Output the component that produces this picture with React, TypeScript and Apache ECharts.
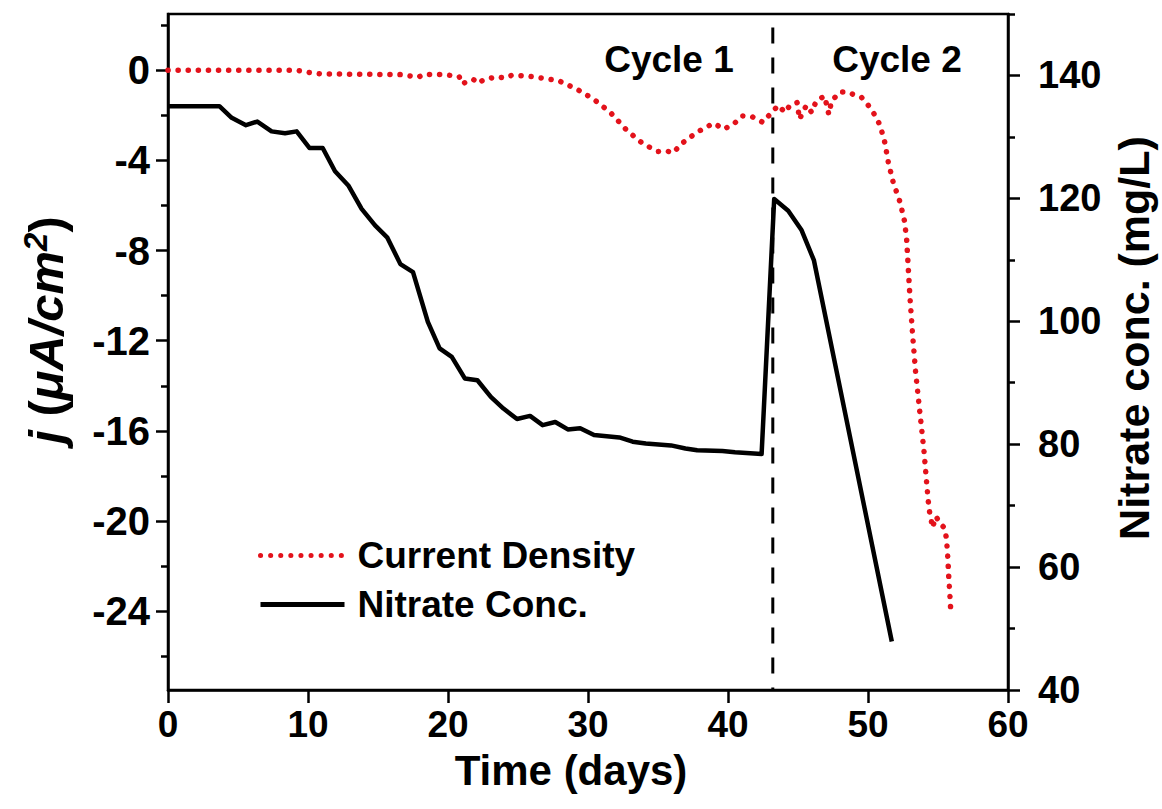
import React, { useEffect, useRef } from 'react';
import * as echarts from 'echarts';

// ---- Data ----
const cdDays = [0, 2, 4, 6, 8, 9.2, 10.1, 10.9, 13, 16.6, 17.9, 18.2, 19.8, 20.5, 20.8, 21.0, 21.8, 22.2, 22.5, 23.5, 24.0, 24.55, 25.6, 26.7, 27.9, 28.7, 29.3, 30.4, 31.6, 32.8, 33.95, 35.0, 35.6, 36.05, 36.8, 37.76, 38.5, 39.0, 39.7, 40.4, 41.0, 41.7, 42.5, 42.9, 43.6, 44.07, 44.43, 44.95, 45.1, 45.6, 45.98, 46.3, 46.9, 47.2, 47.4, 48.0, 48.5, 49.55, 50.26, 50.86, 51.2, 51.45, 51.8, 52.29, 52.6, 52.76, 52.88, 53.0, 53.19, 53.4, 53.7, 54.0, 54.19, 54.3, 54.4, 54.5, 54.6, 54.86, 55.14, 55.45, 55.6, 55.7, 55.77, 55.86, 55.93];
const cdValues = [0, 0, 0, 0, 0, 0, -0.1, -0.16, -0.17, -0.19, -0.3, -0.19, -0.19, -0.26, -0.28, -0.6, -0.4, -0.58, -0.43, -0.28, -0.34, -0.22, -0.25, -0.34, -0.46, -0.69, -0.87, -1.28, -1.87, -2.68, -3.27, -3.6, -3.57, -3.67, -3.2, -2.76, -2.5, -2.35, -2.61, -2.39, -2.02, -2.05, -2.31, -2.02, -1.55, -1.87, -1.55, -1.43, -2.17, -1.55, -1.87, -1.36, -1.14, -1.95, -1.36, -0.96, -0.96, -1.21, -1.73, -2.43, -3.2, -4.08, -4.97, -5.85, -6.67, -7.48, -8.8, -10.1, -11.76, -13.38, -15.15, -16.9, -18.3, -19.1, -19.6, -19.9, -20.3, -19.8, -20.1, -20.3, -20.75, -21.6, -22.5, -23.4, -24.2];

const nitrateDays = [0, 3.67, 4.55, 5.57, 6.38, 7.4, 8.36, 9.19, 10.1, 11.05, 11.93, 12.88, 13.83, 14.79, 15.67, 16.6, 17.5, 18.56, 19.4, 20.27, 21.2, 22.1, 23.06, 23.96, 24.93, 25.86, 26.76, 27.66, 28.56, 29.44, 30.43, 32.24, 33.19, 34.13, 35.93, 36.96, 37.8, 39.6, 40.5, 42.4, 43.3, 44.3, 45.26, 46.14, 51.7];
const nitrateValues = [135.0, 135.0, 133.1, 131.9, 132.5, 130.9, 130.6, 130.9, 128.2, 128.2, 124.4, 122.1, 118.3, 115.6, 113.6, 109.3, 108.0, 99.9, 95.6, 94.2, 90.7, 90.4, 87.7, 85.8, 84.1, 84.6, 83.1, 83.6, 82.4, 82.6, 81.5, 81.1, 80.4, 80.1, 79.8, 79.3, 79.0, 78.9, 78.7, 78.4, 119.9, 118.0, 114.8, 109.9, 47.9];

const dividerDays = [43.2, 43.2];
const dividerValues = [1.9, -27.5];

const leftMajor = [0, -4, -8, -12, -16, -20, -24];
const leftMinor = [2, -2, -6, -10, -14, -18, -22, -26];
const rightMajor = [40, 60, 80, 100, 120, 140];
const rightMinor = [50, 70, 90, 110, 130, 150];

const seriesNames = ['Current Density', 'Nitrate Conc.'];
const cycleLabels = ['Cycle 1', 'Cycle 2'];
const xTitle = 'Time (days)';
const rightTitle = 'Nitrate conc. (mg/L)';

const FONT = '"Liberation Sans", Arial, Helvetica, sans-serif';
const RED = '#e3121b';

export default function App() {
  const ref = useRef<HTMLDivElement>(null);
  useEffect(() => {
    if (!ref.current) return;
    const chart = echarts.init(ref.current, null, { renderer: 'svg' });
    const labelStyle = { fontWeight: 'bold' as const, color: '#000', fontFamily: FONT };
    const axisLineStyle = { color: '#000', width: 2.5 };
    chart.setOption({
      animation: false,
      backgroundColor: '#fff',
      grid: { left: 168, right: 154, top: 14, bottom: 119, show: true, borderColor: '#000', borderWidth: 2.5, containLabel: false },
      xAxis: {
        type: 'value', min: 0, max: 60, interval: 10,
        axisLine: { show: true, onZero: false, lineStyle: axisLineStyle },
        axisTick: { show: true, length: 13, inside: false, lineStyle: axisLineStyle },
        axisLabel: { ...labelStyle, fontSize: 37, margin: 16 },
        splitLine: { show: false },
      },
      yAxis: [
        {
          type: 'value', position: 'left', min: -27.5, max: 2.5,
          axisLine: { show: true, onZero: false, lineStyle: axisLineStyle },
          axisTick: { show: true, length: 12, lineStyle: axisLineStyle, customValues: leftMajor },
          axisLabel: { ...labelStyle, fontSize: 40, margin: 18, customValues: leftMajor },
          splitLine: { show: false },
        },
        {
          type: 'value', position: 'right', min: 40, max: 150,
          axisLine: { show: true, onZero: false, lineStyle: axisLineStyle },
          axisTick: { show: true, length: 12, lineStyle: axisLineStyle, customValues: rightMajor },
          axisLabel: { ...labelStyle, fontSize: 38, margin: 30, customValues: rightMajor },
          splitLine: { show: false },
        },
        {
          type: 'value', position: 'left', min: -27.5, max: 2.5,
          axisLine: { show: false, onZero: false },
          axisTick: { show: true, length: 7, lineStyle: axisLineStyle, customValues: leftMinor },
          axisLabel: { show: false },
          splitLine: { show: false },
        },
        {
          type: 'value', position: 'right', min: 40, max: 150,
          axisLine: { show: false, onZero: false },
          axisTick: { show: true, length: 7, lineStyle: axisLineStyle, customValues: rightMinor },
          axisLabel: { show: false },
          splitLine: { show: false },
        },
      ],
      legend: {
        orient: 'vertical', left: 253, top: 530, itemWidth: 84, itemHeight: 20, itemGap: 8,
        data: seriesNames,
        itemStyle: { opacity: 0, borderWidth: 0 },
        lineStyle: { width: 5 },
        textStyle: { fontSize: 37, fontWeight: 'bold', color: '#000', fontFamily: FONT, padding: [0, 0, 0, 8], lineHeight: 41 },
      },
      series: [
        {
          name: 'divider', type: 'line', yAxisIndex: 0, symbol: 'none', silent: true,
          data: dividerDays.map((d, i) => [d, dividerValues[i]]),
          lineStyle: { color: '#000', width: 3, type: [16, 14] },
        },
        {
          name: seriesNames[0], type: 'line', yAxisIndex: 0, symbol: 'none',
          data: cdDays.map((d, i) => [d, cdValues[i]]),
          lineStyle: { color: RED, width: 5.5, type: [0.1, 10], cap: 'round' },
          itemStyle: { color: RED },
        },
        {
          name: seriesNames[1], type: 'line', yAxisIndex: 1, symbol: 'none',
          data: nitrateDays.map((d, i) => [d, nitrateValues[i]]),
          lineStyle: { color: '#000', width: 4.5, join: 'round' },
          itemStyle: { color: '#000' },
        },
      ],
      graphic: [
        { type: 'text', x: 669, y: 59, style: { text: cycleLabels[0], font: `bold 37px ${FONT}`, fill: '#000', align: 'center', verticalAlign: 'middle' } },
        { type: 'text', x: 897, y: 59, style: { text: cycleLabels[1], font: `bold 37px ${FONT}`, fill: '#000', align: 'center', verticalAlign: 'middle' } },
        { type: 'text', x: 571, y: 770, style: { text: xTitle, font: `bold 42px ${FONT}`, fill: '#000', align: 'center', verticalAlign: 'middle' } },
        { type: 'text', x: 1134, y: 338, rotation: Math.PI / 2, style: { text: rightTitle, font: `bold 43px ${FONT}`, fill: '#000', align: 'center', verticalAlign: 'middle' } },
        {
          type: 'text', x: 46, y: 330, rotation: Math.PI / 2,
          style: {
            text: '{i|j} {n|(}{i|\u03bcA/cm}{s|2}{n|)}',
            fill: '#000', align: 'center', verticalAlign: 'middle',
            rich: {
              i: { fontSize: 49, fontWeight: 'bold', fontStyle: 'italic', fontFamily: FONT, fill: '#000' },
              n: { fontSize: 49, fontWeight: 'bold', fontFamily: FONT, fill: '#000' },
              s: { fontSize: 33, fontWeight: 'bold', fontStyle: 'italic', fontFamily: FONT, fill: '#000', verticalAlign: 'top', padding: [0, 0, 22, 0] },
            },
            font: `bold 49px ${FONT}`,
          },
        },
      ],
    });
    return () => chart.dispose();
  }, []);
  return <div ref={ref} style={{ position: 'fixed', left: 0, top: 0, width: 1162, height: 809 }} />;
}
